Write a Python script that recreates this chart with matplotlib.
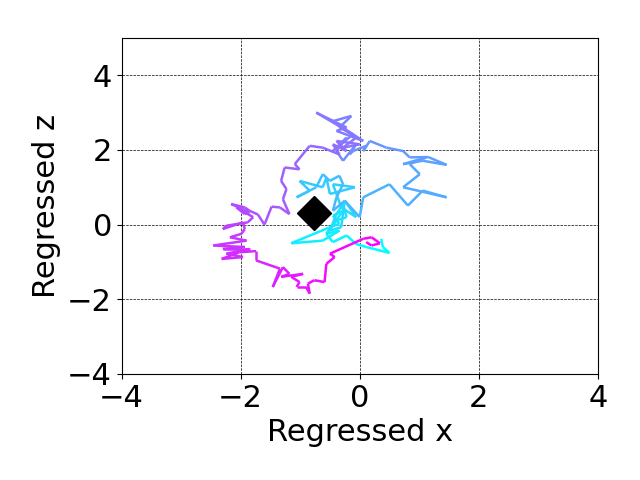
import numpy as np
import matplotlib
matplotlib.use("Agg")
import matplotlib.pyplot as plt
from matplotlib.collections import LineCollection

# regressed trajectory (start = cyan, end = magenta)
x_path = [0.36, 0.39, 0.50, 0.11, -0.06, -0.22, -0.45, -0.56, -0.34, -0.62,
          -1.15, -0.50, -0.34, -0.45, -0.28, -0.56, -0.39, -0.22, -0.28, -0.39,
          -0.50, -0.31, -0.25, -0.06, -0.31, -0.39, -0.45, -0.08, -0.50, -0.56,
          -0.62, -1.01, -0.84, -1.06, -0.73, -0.62, -0.50, -0.34, -0.28, -0.39,
          -0.45, -0.25, 0.00,
          0.06, 0.50, 0.81, 1.06, 1.46, 0.73, 1.01, 0.84, 1.12, 0.73,
          1.06, 1.46, 1.15, 0.84, 0.73, 0.45, 0.17, 0.06, 0.11, -0.11,
          -0.17, -0.06, -0.28, -0.39, -0.22, -0.45, -0.11, -0.34, -0.14, -0.45,
          0.06, -0.39, -0.22, -0.73, -0.39, -0.06, -0.28, 0.00, -0.39, -0.22,
          -0.45, -0.34, -0.62, -0.84,
          -1.09, -1.01, -1.26, -1.32, -1.23, -1.29, -1.18, -1.34, -1.48, -1.60,
          -1.71, -1.85, -1.93, -2.16, -1.85, -1.93, -2.07, -1.79, -1.88, -2.24,
          -2.30, -1.96, -1.93, -1.99, -2.18, -1.90, -2.46, -1.93, -2.30, -1.85,
          -2.24, -1.96, -2.32, -2.02, -1.74, -1.74,
          -1.34, -1.46, -1.29, -1.18, -1.32, -0.95, -1.15, -1.01, -1.06, -0.90,
          -0.84, -0.87, -0.76, -0.59, -0.56, -0.42, -0.50, 0.06, 0.20, 0.34,
          0.20, 0.11]
z_path = [-0.38, -0.60, -0.76, -0.60, -0.52, -0.29, -0.47, -0.25, -0.16, -0.43,
          -0.50, -0.07, 0.02, 0.24, 0.37, -0.25, 0.11, 0.20, 0.55, 0.28,
          -0.16, -0.07, 0.64, 0.20, 0.46, 0.82, 1.08, 1.00, 0.82, 1.26,
          1.00, 1.17, 0.91, 0.73, 1.00, 1.35, 1.17, 1.31, 1.08, 0.73,
          0.37, 0.64, 0.20,
          0.73, 1.08, 0.51, 0.91, 0.73, 1.00, 1.35, 1.62, 1.80, 1.62,
          1.71, 1.60, 1.81, 1.80, 1.97, 2.06, 2.24, 1.97, 2.11, 1.97,
          1.88, 2.15, 1.71, 1.97, 2.33, 1.97, 2.42, 2.60, 2.91, 2.77,
          2.24, 2.51, 2.60, 3.00, 2.68, 2.33, 2.06, 2.15, 2.24, 1.97,
          2.15, 1.88, 2.06, 2.11,
          1.62, 1.48, 1.53, 1.17, 0.95, 0.68, 0.28, 0.46, 0.48, 0.00,
          0.27, 0.37, 0.46, 0.55, 0.33, 0.28, 0.46, 0.20, 0.06, -0.03,
          -0.12, 0.06, -0.12, -0.25, -0.34, -0.43, -0.56, -0.60, -0.65, -0.65,
          -0.78, -0.87, -0.92, -0.74, -0.71, -0.96,
          -1.18, -1.67, -1.14, -1.32, -1.40, -1.32, -1.40, -1.54, -1.67, -1.67,
          -1.85, -1.58, -1.49, -1.54, -1.05, -0.87, -0.78, -0.38, -0.34, -0.50,
          -0.56, -0.47]

# true position
true_x = [-0.77]
true_z = [0.31]

fig = plt.figure(figsize=(6.4, 4.8), dpi=100)
ax = fig.add_axes([0.19, 0.221, 0.744, 0.70])

pts = np.column_stack([x_path, z_path])
segs = np.stack([pts[:-1], pts[1:]], axis=1)
lc = LineCollection(segs, cmap="cool", linewidth=1.8)
lc.set_array(np.linspace(0, 1, len(segs)))
ax.add_collection(lc)

ax.plot(true_x, true_z, "D", color="black", markersize=17, zorder=5)

ax.set_xlim(-4, 4)
ax.set_ylim(-4, 5)
ax.set_xticks([-4, -2, 0, 2, 4])
ax.set_yticks([-4, -2, 0, 2, 4])
ax.tick_params(labelsize=22)
ax.set_xlabel("Regressed x", fontsize=22)
ax.set_ylabel("Regressed z", fontsize=22)
ax.grid(True, color="black", linestyle="--", linewidth=0.5)

fig.savefig("out.png", dpi=100)
